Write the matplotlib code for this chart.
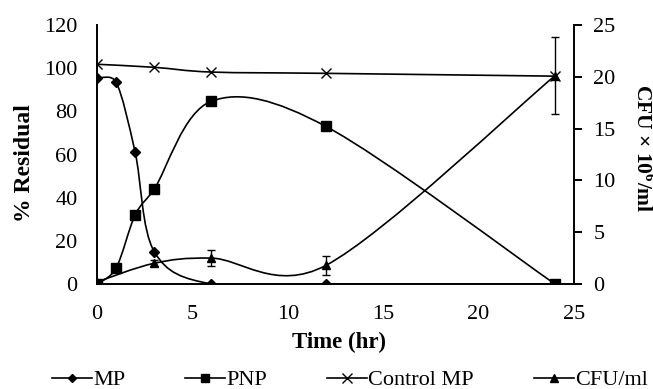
import numpy as np
import matplotlib
matplotlib.use("Agg")
import matplotlib.pyplot as plt
from matplotlib.path import Path
from matplotlib.patches import PathPatch
from matplotlib.lines import Line2D

# ---- data ----
time = [0, 1, 2, 3, 6, 12, 24]
mp = [95.4, 93.5, 61, 15, 0, 0, 0]
pnp = [0, 7.4, 32, 44, 84.7, 73, 0]
ctrl_time = [0, 3, 6, 12, 24]
control_mp = [101.8, 100.4, 98.2, 97.6, 96.3]
cfu_time = [0, 3, 6, 12, 24]
cfu = [0.2, 2.0, 2.5, 1.8, 20.1]
cfu_err = [0.0, 0.3, 0.8, 0.9, 3.7]
xticks = [0, 5, 10, 15, 20, 25]
yticks_left = [0, 20, 40, 60, 80, 100, 120]
yticks_right = [0, 5, 10, 15, 20, 25]

plt.rcParams['font.family'] = ['Liberation Serif', 'DejaVu Serif']
plt.rcParams['mathtext.fontset'] = 'custom'
plt.rcParams['mathtext.rm'] = 'Liberation Serif:bold'
plt.rcParams['mathtext.bf'] = 'Liberation Serif:bold'

FS_TICK = 16
FS_LAB = 16.5

W, H = 653, 389
fig = plt.figure(figsize=(W / 100, H / 100), dpi=100)
ax = fig.add_axes([97 / W, 1 - 284 / H, (574 - 97) / W, (284 - 25) / H])
ax2 = ax.twinx()
ax.set_xlim(0, 25)
ax.set_ylim(0, 120)
ax2.set_ylim(0, 25)


def smooth_path(a, x, y):
    """Excel-style smoothed line (cubic Bezier, tension 1/6, control
    distance limited to half the segment length in screen space)."""
    pts = np.column_stack([np.asarray(x, float), np.asarray(y, float)])
    pix = a.transData.transform(pts)
    n = len(pts)
    verts = [tuple(pts[0])]
    codes = [Path.MOVETO]
    for i in range(n - 1):
        i0, i1, i2, i3 = max(i - 1, 0), i, i + 1, min(i + 2, n - 1)
        d12 = np.hypot(*(pix[i2] - pix[i1]))
        d02 = np.hypot(*(pix[i2] - pix[i0]))
        d13 = np.hypot(*(pix[i3] - pix[i1]))
        f1 = 1 / 6.0
        f2 = 1 / 6.0
        if d02 / 6.0 >= d12 / 2.0 and d02 > 0:
            f1 = d12 / d02 / 2.0
        if d13 / 6.0 >= d12 / 2.0 and d13 > 0:
            f2 = d12 / d13 / 2.0
        c1 = pts[i1] + (pts[i2] - pts[i0]) * f1
        c2 = pts[i2] - (pts[i3] - pts[i1]) * f2
        verts += [tuple(c1), tuple(c2), tuple(pts[i2])]
        codes += [Path.CURVE4] * 3
    return Path(verts, codes)


lw = 1.2
ax.add_patch(PathPatch(smooth_path(ax, time, mp), fill=False, lw=lw, color='black', zorder=3))
ax.plot(time, mp, ls='none', marker='D', ms=5, color='black', zorder=4)
ax.add_patch(PathPatch(smooth_path(ax, time, pnp), fill=False, lw=lw, color='black', zorder=3))
ax.plot(time, pnp, ls='none', marker='s', ms=7.5, color='black', zorder=4)
ax.add_patch(PathPatch(smooth_path(ax, ctrl_time, control_mp), fill=False, lw=lw, color='black', zorder=3))
ax.plot(ctrl_time, control_mp, ls='none', marker='x', ms=7, mew=1.0, color='black', zorder=4)

ax2.add_patch(PathPatch(smooth_path(ax2, cfu_time, cfu), fill=False, lw=lw, color='black', zorder=3))
ax2.errorbar(cfu_time, cfu, yerr=cfu_err, ls='none', marker='^', ms=6, color='black',
             ecolor='black', elinewidth=1.0, capsize=3, capthick=1.0, zorder=4)

ax.set_xticks(xticks)
ax.set_yticks(yticks_left)
ax2.set_yticks(yticks_right)

for a in (ax, ax2):
    a.spines['top'].set_visible(False)
    for s in a.spines.values():
        s.set_linewidth(1.4)
ax.spines['right'].set_visible(False)
ax2.spines['left'].set_visible(False)
ax2.spines['bottom'].set_visible(False)

ax.tick_params(axis='x', length=0, labelsize=FS_TICK, pad=15)
ax.tick_params(axis='y', length=0, labelsize=FS_TICK, pad=14)
ax2.tick_params(axis='y', direction='out', length=6, width=1.4, labelsize=FS_TICK, pad=8)

fig.text(339 / W, 1 - 342 / H, 'Time (hr)', fontsize=FS_LAB, fontweight='bold',
         ha='center', va='center')
fig.text(24 / W, 1 - 163 / H, '% Residual', fontsize=17, fontweight='bold',
         ha='center', va='center', rotation=90)
fig.text(642 / W, 1 - 148 / H, r'CFU × 10$^{6}$/ml', fontsize=15.5, fontweight='bold',
         ha='center', va='center', rotation=270)

handles = [
    Line2D([], [], color='black', lw=lw, marker='D', ms=4.5),
    Line2D([], [], color='black', lw=lw, marker='s', ms=6),
    Line2D([], [], color='black', lw=lw, marker='x', ms=7),
    Line2D([], [], color='black', lw=lw, marker='^', ms=5.5),
]
labels = ['MP', 'PNP', 'Control MP', 'CFU/ml']
fig.legend(handles, labels, loc='center', bbox_to_anchor=(350 / W, 1 - 380 / H), ncol=4,
           frameon=False, fontsize=16, handlelength=1.8, handletextpad=0.05,
           columnspacing=2.7, borderpad=0, borderaxespad=0)

fig.savefig('out.png', dpi=100)
